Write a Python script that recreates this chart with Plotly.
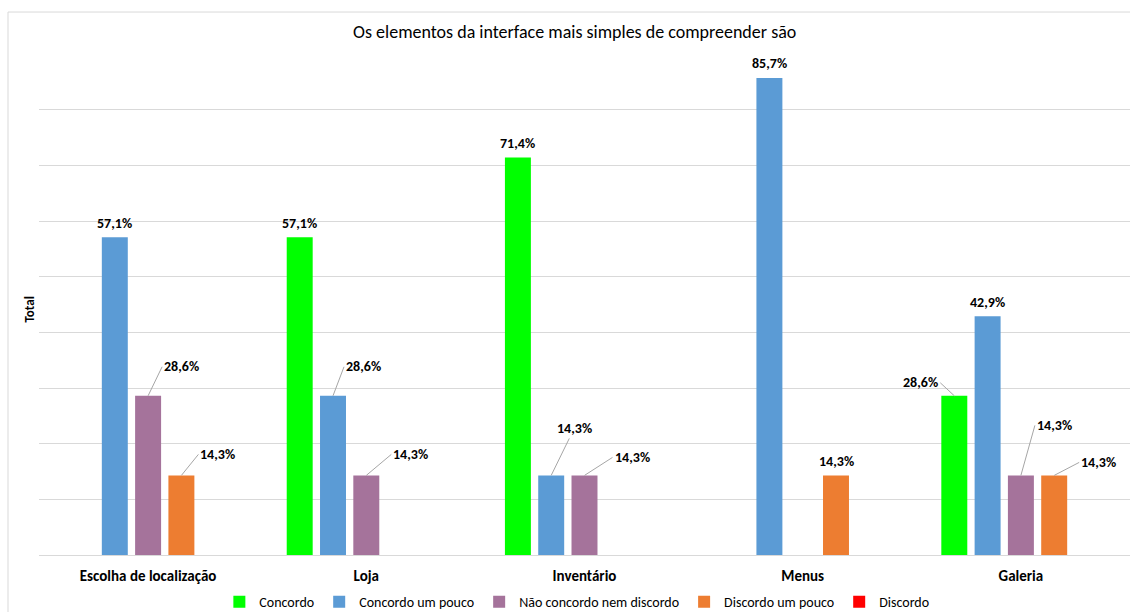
import plotly.graph_objects as go

categories = ["Escolha de localização", "Loja", "Inventário", "Menus", "Galeria"]
series_names = ["Concordo", "Concordo um pouco", "Não concordo nem discordo",
                "Discordo um pouco", "Discordo"]
concordo = [None, 57.1, 71.4, None, 28.6]
concordo_um_pouco = [57.1, 28.6, 14.3, 85.7, 42.9]
nao_concordo_nem_discordo = [28.6, 14.3, 14.3, None, 14.3]
discordo_um_pouco = [14.3, None, None, 14.3, 14.3]
discordo = [None, None, None, None, None]
series_values = [concordo, concordo_um_pouco, nao_concordo_nem_discordo,
                 discordo_um_pouco, discordo]

# styles
colors = ["#00FF00", "#5B9BD5", "#A5739B", "#ED7D31", "#FF0000"]
FONT = "Carlito, 'Liberation Sans Narrow', 'Arial Narrow', 'Open Sans', sans-serif"
BARGAP = 0.237
BARGROUPGAP = 0.22
# callout label offsets (px) keyed by (series index, category index)
callouts = {
    (2, 0): (14, -29, "left"),
    (3, 0): (17, -21, "left"),
    (1, 1): (11, -29, "left"),
    (2, 1): (25, -21, "left"),
    (1, 2): (23, -47, "center"),
    (2, 2): (28, -18, "left"),
    (0, 4): (-14, -13, "right"),
    (2, 4): (14, -50, "left"),
    (3, 4): (25, -13, "left"),
}

fig = go.Figure()
for name, vals, col in zip(series_names, series_values, colors):
    fig.add_trace(go.Bar(name=name, x=categories, y=vals, marker_color=col,
                         marker_line_width=0))

n = len(series_names)
slot = (1 - BARGAP) / n
annotations = []
for s, vals in enumerate(series_values):
    for i, v in enumerate(vals):
        if v is None:
            continue
        xpos = i + (s - (n - 1) / 2) * slot
        txt = "<b>" + f"{v:.1f}%".replace(".", ",") + "</b>"
        if (s, i) in callouts:
            ax, ay, xa = callouts[(s, i)]
            annotations.append(dict(x=xpos, y=v, xref="x", yref="y", text=txt,
                                    showarrow=True, arrowhead=0, arrowwidth=1,
                                    arrowcolor="#A6A6A6", ax=ax, ay=ay,
                                    xanchor=xa, yanchor="middle",
                                    font=dict(family=FONT, size=14, color="#000")))
        else:
            annotations.append(dict(x=xpos, y=v, xref="x", yref="y", text=txt,
                                    showarrow=False, yanchor="middle", yshift=14,
                                    font=dict(family=FONT, size=14, color="#000")))

annotations.append(dict(x=-0.0083, y=0.49, xref="paper", yref="paper", text="<b>Total</b>",
                        textangle=-90, showarrow=False, xanchor="center", yanchor="middle",
                        font=dict(family=FONT, size=13, color="#000")))

fig.update_layout(
    width=1130, height=612,
    margin=dict(l=39, r=0, t=54, b=57, autoexpand=False),
    paper_bgcolor="white", plot_bgcolor="white",
    barmode="group", bargap=BARGAP, bargroupgap=BARGROUPGAP,
    title=dict(text="Os elementos da interface mais simples de compreender são",
               x=0.491, xref="paper", xanchor="center", y=0.949, yanchor="middle",
               font=dict(family=FONT, size=18, color="#000")),
    font=dict(family=FONT, color="#000"),
    xaxis=dict(showgrid=False, showline=True, linecolor="#D9D9D9", linewidth=1,
               tickfont=dict(family=FONT, size=15, color="#000"), ticks="",
               tickprefix="<b>", ticksuffix="</b>", automargin=False,
               ticklabelstandoff=7),
    yaxis=dict(range=[0, 90], dtick=10, showgrid=True, gridcolor="#D9D9D9", gridwidth=1,
               showticklabels=False, zeroline=False, showline=False, fixedrange=True,
               automargin=False),
    legend=dict(orientation="h", x=0.493, xanchor="center", y=-0.094, yanchor="middle",
                font=dict(family=FONT, size=14, color="#000"), itemwidth=30,
                traceorder="normal", borderwidth=0, tracegroupgap=0),
    annotations=annotations,
    shapes=[
        dict(type="line", xref="paper", yref="paper", x0=-0.0284, x1=1.05, y0=1.0838, y1=1.0838,
             line=dict(color="#D9D9D9", width=1)),
        dict(type="line", xref="paper", yref="paper", x0=-0.0284, x1=-0.0284, y0=1.0838, y1=-0.2,
             line=dict(color="#D9D9D9", width=1)),
    ],
    showlegend=True,
)
fig.write_html("out.html")
